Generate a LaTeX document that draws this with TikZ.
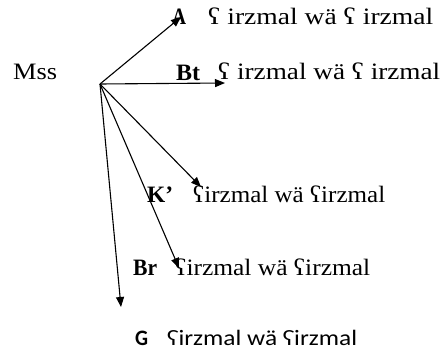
\documentclass[tikz,border=0pt]{standalone}
\usepackage{fontspec}
\usepackage{graphicx}
\setmainfont{Liberation Serif}
\newfontfamily\gsans{Carlito}
\usetikzlibrary{arrows.meta}
\newcommand{\fitw}[2]{\resizebox{#1}{\height}{#2}}
\begin{document}
\begin{tikzpicture}[x=1pt,y=-1pt,
  lbl/.style={anchor=base west,inner sep=0pt,font=\fontsize{23.5}{26}\selectfont},
  glbl/.style={anchor=base west,inner sep=0pt,font=\gsans\fontsize{22}{24}\selectfont},
  arr/.style={-{Triangle[length=10pt,width=8pt]},line width=1.1pt}]
\useasboundingbox (0,0) rectangle (443,350);
\node[lbl] (mss) at (13,79) {\fitw{44pt}{Mss}};
\coordinate (o) at (100,84);
\coordinate (ta) at (181,17);
\coordinate (tb) at (225,83);
\coordinate (tk) at (201,187);
\coordinate (tr) at (179,268);
\coordinate (tg) at (121,307);
\node[lbl] (al) at (172,25) {\fitw{14pt}{\textbf{A}}};
\node[lbl] (at) at (208,25) {\fitw{225pt}{ʕ irzmal wä ʕ irzmal}};
\node[lbl] (bl) at (176,80) {\fitw{24pt}{\textbf{Bt}}};
\node[lbl] (bt) at (218,80) {\fitw{222pt}{ʕ irzmal wä ʕ irzmal}};
\node[lbl] (kl) at (147,202) {\fitw{26pt}{\textbf{K’}}};
\node[lbl] (kt) at (193,202) {\fitw{192pt}{ʕirzmal wä ʕirzmal}};
\node[lbl] (rl) at (133,275) {\fitw{24pt}{\textbf{Br}}};
\node[lbl] (rt) at (175,275) {\fitw{195pt}{ʕirzmal wä ʕirzmal}};
\node[glbl] (gl) at (135,345) {\fitw{13pt}{\textbf{G}}};
\node[glbl] (gt) at (167,345) {\fitw{190pt}{ʕirzmal wä ʕirzmal}};
\draw[arr] (o) -- (ta);
\draw[arr] (o) -- (tb);
\draw[arr] (o) -- (tk);
\draw[arr] (o) -- (tr);
\draw[arr] (o) -- (tg);
\end{tikzpicture}
\end{document}
